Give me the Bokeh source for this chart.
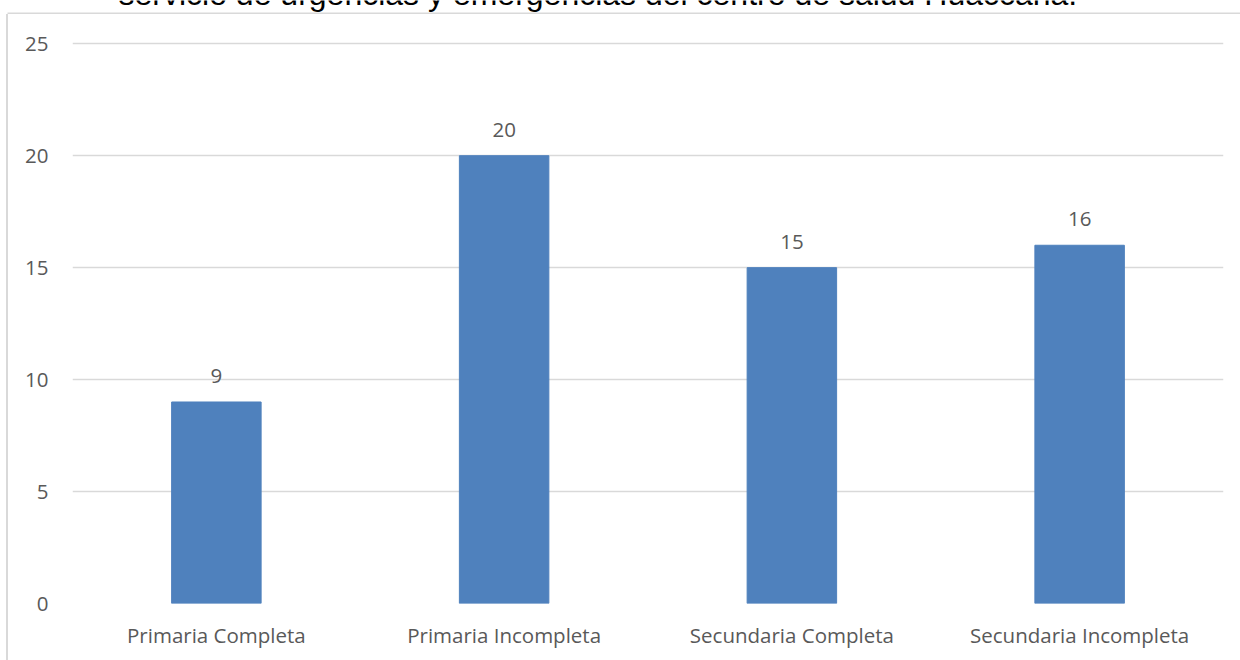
from bokeh.plotting import figure
from bokeh.layouts import column, row
from bokeh.models import FactorRange, Range1d, FixedTicker, Label, ColumnDataSource, Div
from bokeh.embed import file_html
from bokeh.resources import INLINE
from bokeh.core.properties import value

categories = ["Primaria Completa", "Primaria Incompleta", "Secundaria Completa", "Secundaria Incompleta"]
counts = [9, 20, 15, 16]
y_ticks = [0, 5, 10, 15, 20, 25]
title_text = "servicio de urgencias y emergencias del centro de salud Huaccana."

BORDER = "#d9d9d9"

# --- title strip (clipped at the top, as in the reference) ---
top = figure(width=1240, height=14, x_range=Range1d(0, 1240), y_range=Range1d(14, 0),
             output_backend="svg", toolbar_location=None,
             x_axis_location=None, y_axis_location=None,
             min_border_left=0, min_border_right=0, min_border_top=0, min_border_bottom=0)
top.outline_line_color = None
top.grid.visible = False
top.segment(x0=[7], y0=[13], x1=[1240], y1=[13], line_color=BORDER, line_width=2)
top.add_layout(Label(x=118, y=-7, text=title_text,
                     text_font="Liberation Sans", text_font_size="32px", text_color="black",
                     text_align="left", text_baseline="alphabetic"))

# --- left border of the chart box ---
left = Div(text="", width=8, height=646, margin=0,
           styles={"box-sizing": "border-box", "border-right": "2px solid " + BORDER,
                   "padding": "0", "margin": "0"})

# --- chart ---
source = ColumnDataSource(dict(cat=categories, val=counts, lab=[str(v) for v in counts]))

p = figure(width=1232, height=646,
           x_range=FactorRange(factors=categories, range_padding=0),
           y_range=Range1d(0, 25.1),
           output_backend="svg", toolbar_location=None,
           min_border_left=64, min_border_right=17, min_border_top=27, min_border_bottom=57)
p.outline_line_color = None
p.background_fill_color = "white"
p.border_fill_color = "white"

p.vbar(x="cat", top="val", width=0.311, source=source, fill_color="#4F81BD", line_color="#4F81BD")
p.text(x="cat", y="val", text="lab", source=source, text_align="center", text_baseline="alphabetic",
       y_offset=-26, text_font=value("Open Sans"), text_font_size="20.5px", text_color="#595959")

p.yaxis.ticker = FixedTicker(ticks=y_ticks)
p.ygrid.ticker = FixedTicker(ticks=y_ticks)
for ax in (p.xaxis[0], p.yaxis[0]):
    ax.axis_line_color = None
    ax.major_tick_line_color = None
    ax.minor_tick_line_color = None
    ax.major_tick_out = 0
    ax.major_tick_in = 0
    ax.minor_tick_out = 0
    ax.major_label_text_font = "Open Sans"
    ax.major_label_text_font_size = "20.5px"
    ax.major_label_text_color = "#595959"
p.yaxis.major_label_standoff = 24
p.xaxis.major_label_standoff = 17
p.xgrid.grid_line_color = None
p.ygrid.grid_line_color = BORDER
p.ygrid.grid_line_width = 1.5

layout = column(top, row(left, p, spacing=0), spacing=0)

open("out.html", "w").write(file_html(layout, INLINE))
